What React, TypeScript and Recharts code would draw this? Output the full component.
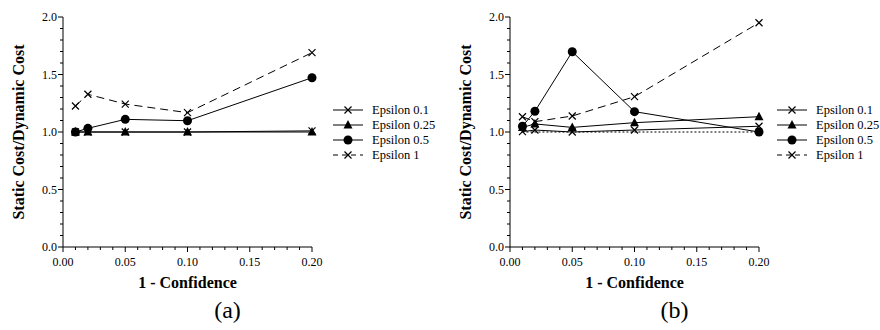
import React from 'react';
import { LineChart, Line, XAxis, YAxis, ReferenceLine, Label } from 'recharts';

const CONFIDENCE = [0.01, 0.02, 0.05, 0.1, 0.2];

// panel (a)
const A_EPS_01 = [1.0, 1.0, 1.0, 1.0, 1.01];
const A_EPS_025 = [1.0, 1.0, 1.0, 1.0, 1.0];
const A_EPS_05 = [1.0, 1.032, 1.11, 1.098, 1.472];
const A_EPS_1 = [1.226, 1.328, 1.243, 1.168, 1.69];

// panel (b)
const B_EPS_01 = [1.003, 1.017, 1.0, 1.017, 1.05];
const B_EPS_025 = [1.04, 1.07, 1.04, 1.081, 1.133];
const B_EPS_05 = [1.05, 1.18, 1.698, 1.177, 1.0];
const B_EPS_1 = [1.133, 1.09, 1.139, 1.307, 1.95];

const X_TICKS = [0, 0.01, 0.02, 0.03, 0.04, 0.05, 0.06, 0.07, 0.08, 0.09, 0.1,
  0.11, 0.12, 0.13, 0.14, 0.15, 0.16, 0.17, 0.18, 0.19, 0.2];
const X_LABELED = ['0.00', '0.05', '0.10', '0.15', '0.20'];
const Y_TICKS = [0, 0.1, 0.2, 0.3, 0.4, 0.5, 0.6, 0.7, 0.8, 0.9, 1.0,
  1.1, 1.2, 1.3, 1.4, 1.5, 1.6, 1.7, 1.8, 1.9, 2.0];
const Y_LABELED = ['0.0', '0.5', '1.0', '1.5', '2.0'];

const SERIES = [
  { key: 'e01', name: 'Epsilon 0.1', marker: 'cross', dash: undefined },
  { key: 'e025', name: 'Epsilon 0.25', marker: 'triangle', dash: undefined },
  { key: 'e05', name: 'Epsilon 0.5', marker: 'circle', dash: undefined },
  { key: 'e1', name: 'Epsilon 1', marker: 'cross', dash: '8 5' },
];

const FONT = '"Liberation Serif", "DejaVu Serif", serif';

const build = (e01: number[], e025: number[], e05: number[], e1: number[]) =>
  CONFIDENCE.map((x, i) => ({ x, e01: e01[i], e025: e025[i], e05: e05[i], e1: e1[i] }));

const DATA_A = build(A_EPS_01, A_EPS_025, A_EPS_05, A_EPS_1);
const DATA_B = build(B_EPS_01, B_EPS_025, B_EPS_05, B_EPS_1);

const Marker = ({ type, cx, cy }: { type: string; cx: number; cy: number }) => {
  if (type === 'circle') return <circle cx={cx} cy={cy} r={4.5} fill="#000" />;
  if (type === 'triangle')
    return <polygon points={`${cx},${cy - 5} ${cx - 4.5},${cy + 3.5} ${cx + 4.5},${cy + 3.5}`} fill="#000" />;
  return (
    <path d={`M${cx - 3.5},${cy - 3.5}L${cx + 3.5},${cy + 3.5}M${cx - 3.5},${cy + 3.5}L${cx + 3.5},${cy - 3.5}`}
      stroke="#000" strokeWidth={1.2} fill="none" />
  );
};

const XTick = (props: any) => {
  const { x, y, payload } = props;
  const label = payload.value.toFixed(2);
  const major = X_LABELED.includes(label);
  return (
    <g>
      <line x1={x} y1={y} x2={x} y2={y + (major ? 5 : 3)} stroke="#000" strokeWidth={1} />
      {major && (
        <text x={x} y={y + 19} textAnchor="middle" fontFamily={FONT} fontSize={12} fill="#000">{label}</text>
      )}
    </g>
  );
};

const YTick = (props: any) => {
  const { x, y, payload } = props;
  const label = payload.value.toFixed(1);
  const major = Y_LABELED.includes(label) && Math.abs(payload.value * 2 - Math.round(payload.value * 2)) < 1e-6;
  return (
    <g>
      <line x1={x} y1={y} x2={x - (major ? 5 : 3)} y2={y} stroke="#000" strokeWidth={1} />
      {major && (
        <text x={x - 6} y={y} dy="0.35em" textAnchor="end" fontFamily={FONT} fontSize={12} fill="#000">{label}</text>
      )}
    </g>
  );
};

const LegendBox = ({ left }: { left: number }) => (
  <svg style={{ position: 'absolute', left, top: 100 }} width={115} height={62}>
    {SERIES.map((s, i) => {
      const cy = 10 + i * 15;
      return (
        <g key={s.key}>
          <line x1={0} y1={cy} x2={30} y2={cy} stroke="#000" strokeWidth={1} strokeDasharray={s.dash ? '5 4' : undefined} />
          <Marker type={s.marker} cx={15} cy={cy} />
          <text x={39} y={cy} dy="0.35em" fontFamily={FONT} fontSize={12.5} fill="#000">{s.name}</text>
        </g>
      );
    })}
  </svg>
);

const Panel = ({ data, left, plotLeft, plotRight, legendLeft, caption, refLine }: any) => (
  <div style={{ position: 'absolute', left, top: 0, width: 440, height: 330 }}>
    <LineChart width={440} height={330} data={data}
      margin={{ top: 17, right: 440 - plotRight, bottom: 53, left: plotLeft - 40 }}>
      <XAxis dataKey="x" type="number" domain={[0, 0.2]} ticks={X_TICKS} interval={0}
        tickSize={0} tickMargin={0} tick={<XTick />} height={30}
        axisLine={{ stroke: '#000', strokeWidth: 1 }}>
        <Label content={({ viewBox }: any) => (
          <text x={viewBox.x + viewBox.width / 2} y={viewBox.y + 41} textAnchor="middle"
            fontFamily={FONT} fontSize={16} fontWeight="bold" fill="#000">1 - Confidence</text>
        )} />
      </XAxis>
      <YAxis type="number" domain={[0, 2]} ticks={Y_TICKS} interval={0} width={40}
        tickSize={0} tickMargin={0} tick={<YTick />}
        axisLine={{ stroke: '#000', strokeWidth: 1 }}>
        <Label content={({ viewBox }: any) => {
          const cx = viewBox.x + viewBox.width - 45;
          const cy = viewBox.y + viewBox.height / 2;
          return (
            <text x={cx} y={cy} dy="0.35em" textAnchor="middle" transform={`rotate(-90 ${cx} ${cy})`}
              fontFamily={FONT} fontSize={16} fontWeight="bold" fill="#000">Static Cost/Dynamic Cost</text>
          );
        }} />
      </YAxis>
      {refLine && (
        <ReferenceLine segment={[{ x: 0.01, y: 1 }, { x: 0.2, y: 1 }]} stroke="#000" strokeWidth={1} strokeDasharray="2 2" />
      )}
      {SERIES.map((s) => (
        <Line key={s.key} dataKey={s.key} name={s.name} stroke="#000" strokeWidth={1}
          strokeDasharray={s.dash} isAnimationActive={false}
          dot={(p: any) => <Marker key={`${s.key}-${p.index}`} type={s.marker} cx={p.cx} cy={p.cy} />}
          activeDot={false} />
      ))}
    </LineChart>
    <LegendBox left={legendLeft} />
    <div style={{ position: 'absolute', left: 0, width: 2 * ((plotLeft + plotRight) / 2) + 80, top: 296,
      textAlign: 'center', fontFamily: FONT, fontSize: 24, lineHeight: '28px' }}>
      {caption}
    </div>
  </div>
);

export default function App() {
  return (
    <div style={{ position: 'absolute', left: 0, top: 0, width: 880, height: 330, background: '#fff' }}>
      <Panel data={DATA_A} left={0} plotLeft={63} plotRight={312} legendLeft={333} caption="(a)" refLine={false} />
      <Panel data={DATA_B} left={440} plotLeft={70} plotRight={319} legendLeft={337} caption="(b)" refLine={true} />
    </div>
  );
}
